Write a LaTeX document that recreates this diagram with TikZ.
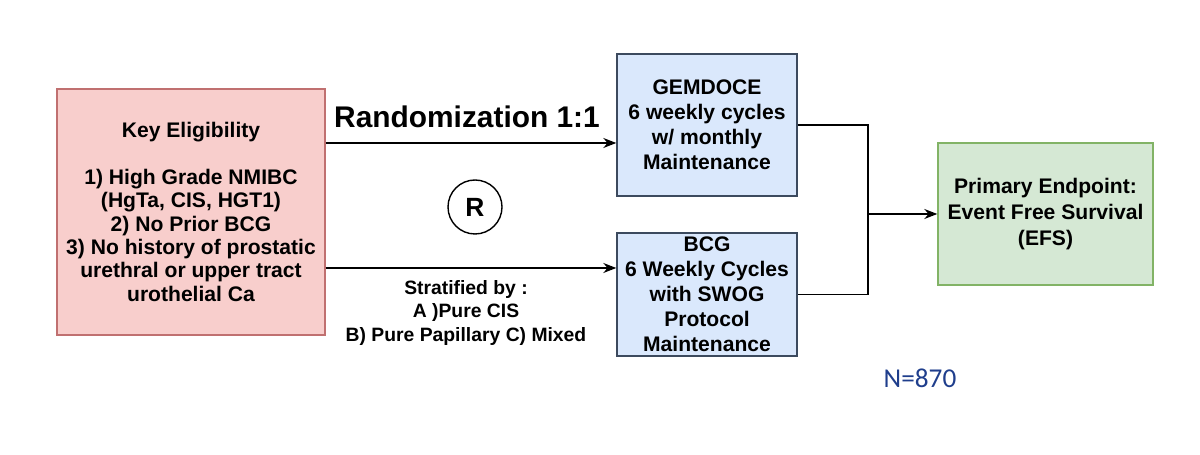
\documentclass[tikz,border=0pt]{standalone}
\usepackage{fontspec}
\setmainfont{Liberation Sans}
\newfontfamily\calfont{Carlito}
\usetikzlibrary{arrows.meta,positioning}
\definecolor{pinkfill}{HTML}{F8CECC}
\definecolor{pinkline}{HTML}{C07070}
\definecolor{bluefill}{HTML}{DAE8FC}
\definecolor{blueline}{HTML}{3C4A5E}
\definecolor{greenfill}{HTML}{D5E8D4}
\definecolor{greenline}{HTML}{82B366}
\definecolor{nblue}{HTML}{1F3E8C}
\begin{document}
\begin{tikzpicture}[
    box/.style={draw, align=center, line width=0.8pt, inner sep=1pt, font=\fontsize{12}{14.2}\selectfont\bfseries},
    link/.style={-{Stealth[length=2.6mm,width=2mm]}, line width=0.7pt},
    wire/.style={line width=0.7pt}
]
\useasboundingbox (0,0) rectangle (24,9.1);
\node[box, fill=pinkfill, draw=pinkline, minimum width=5.36cm, minimum height=4.92cm,
      font=\fontsize{12}{13.3}\selectfont\bfseries] (elig) at (3.82,4.86)
  {Key Eligibility\\[13.3pt]1) High Grade NMIBC\\(HgTa, CIS, HGT1)\\2) No Prior BCG\\3) No history of prostatic\\urethral or upper tract\\urothelial Ca};
\node[box, fill=bluefill, draw=blueline, minimum width=3.6cm, minimum height=2.84cm] (gem) at (14.14,6.6)
  {GEMDOCE\\6 weekly cycles\\w/ monthly\\Maintenance};
\node[box, fill=bluefill, draw=blueline, minimum width=3.6cm, minimum height=2.46cm] (bcg) at (14.14,3.21)
  {BCG\\6 Weekly Cycles\\with SWOG\\Protocol\\Maintenance};
\node[box, fill=greenfill, draw=greenline, minimum width=4.3cm, minimum height=2.84cm,
      font=\fontsize{12}{15}\selectfont\bfseries] (efs) at (20.91,4.82)
  {Primary Endpoint:\\Event Free Survival\\(EFS)};
\node[font=\fontsize{17}{20}\selectfont\bfseries] (rand) at (9.34,6.76) {Randomization 1:1};
\node[draw, circle, line width=0.8pt, minimum size=1.08cm, inner sep=0pt,
      font=\fontsize{15}{18}\selectfont\bfseries] (rcirc) at (9.5,4.96) {R};
\node[align=center, font=\fontsize{11}{13.4}\selectfont\bfseries] (strat) at (9.32,2.84)
  {Stratified by :\\A )Pure CIS\\B) Pure Papillary C) Mixed};
\node[text=nblue, font=\calfont\fontsize{15.5}{19}\selectfont] (n) at (18.4,1.54) {N=870};
% arms
\coordinate (toparm) at (0,6.24);
\coordinate (botarm) at (0,3.74);
\coordinate (join) at (17.36,4.82);
\draw[link] (elig.east |- toparm) -- (gem.west |- toparm);
\draw[link] (elig.east |- botarm) -- (bcg.west |- botarm);
% merge to endpoint
\draw[wire] (gem.east) -| (join) |- (bcg.east);
\draw[link] (join) -- (efs.west);
\end{tikzpicture}
\end{document}
